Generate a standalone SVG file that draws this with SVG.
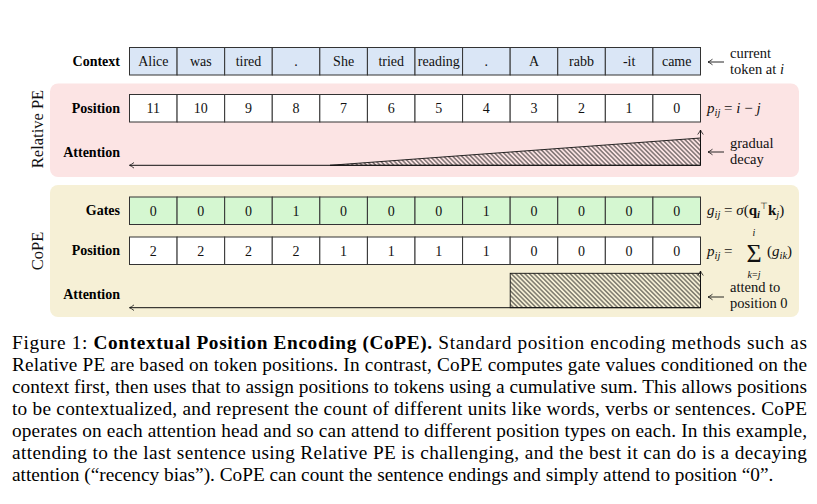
<svg xmlns="http://www.w3.org/2000/svg" width="817" height="504" viewBox="0 0 817 504">
<style>
.lbl{font-family:"Liberation Serif","Times New Roman",serif;font-size:14px;font-weight:bold;text-anchor:end;fill:#000}
.cell{stroke:#333;stroke-width:1}
.ctx{fill:#dae6f6}
.gate{fill:#d5f7d1}
.pos{fill:#fff}
.ct{font-family:"Liberation Serif","Times New Roman",serif;font-size:14px;text-anchor:middle;fill:#111}
.note{font-family:"Liberation Serif","Times New Roman",serif;font-size:14.5px;fill:#111}
.m{font-family:"Liberation Serif","Times New Roman",serif;font-size:15px;fill:#111}
.it{font-style:italic}
.sub{font-size:10.5px;font-style:italic}
.side{font-family:"Liberation Serif","Times New Roman",serif;font-size:16.5px;fill:#111;text-anchor:middle}
.cap{font-family:"Liberation Serif","Times New Roman",serif;font-size:19.3px;fill:#000}
.att{stroke:#111;stroke-width:1;fill:none}
.sarr{stroke:#111;stroke-width:0.9;fill:none}
</style>
<defs>
<pattern id="hatch" width="3.2" height="3.2" patternUnits="userSpaceOnUse" patternTransform="rotate(-45)">
<line x1="1.6" y1="0" x2="1.6" y2="3.2" stroke="#111" stroke-width="0.8"/>
</pattern>
<marker id="ah" viewBox="-6 0 8 8" markerWidth="8" markerHeight="8" refX="0" refY="4" orient="auto" markerUnits="userSpaceOnUse" overflow="visible">
<path d="M-4.5,1.2 Q-1.5,3.5 0,4 Q-1.5,4.5 -4.5,6.8" fill="none" stroke="#111" stroke-width="0.8"/>
</marker>
</defs>

<!-- background panels -->
<g id="panel-relative">
<rect x="50" y="83.5" width="749" height="93.5" rx="8" fill="#fce4e4"/>
<text class="side" transform="translate(43,129) rotate(-90)">Relative PE</text>
</g>
<g id="panel-cope">
<rect x="50" y="185" width="749" height="132" rx="8" fill="#f6f0d6"/>
<text class="side" transform="translate(43,251) rotate(-90)">CoPE</text>
</g>

<!-- row labels -->
<g id="row-labels">
<text class="lbl" x="120" y="66">Context</text>
<text class="lbl" x="120" y="113">Position</text>
<text class="lbl" x="120" y="157">Attention</text>
<text class="lbl" x="120" y="215">Gates</text>
<text class="lbl" x="120" y="255">Position</text>
<text class="lbl" x="120" y="299">Attention</text>
</g>

<!-- Context row -->
<g id="context-row">
<g id="ctx-0"><rect class="cell ctx" x="129.5" y="47.5" width="47.58" height="27.5"/><text class="ct" x="153.29" y="66">Alice</text></g>
<g id="ctx-1"><rect class="cell ctx" x="177.08" y="47.5" width="47.58" height="27.5"/><text class="ct" x="200.87" y="66">was</text></g>
<g id="ctx-2"><rect class="cell ctx" x="224.67" y="47.5" width="47.58" height="27.5"/><text class="ct" x="248.46" y="66">tired</text></g>
<g id="ctx-3"><rect class="cell ctx" x="272.25" y="47.5" width="47.58" height="27.5"/><text class="ct" x="296.04" y="66">.</text></g>
<g id="ctx-4"><rect class="cell ctx" x="319.83" y="47.5" width="47.58" height="27.5"/><text class="ct" x="343.62" y="66">She</text></g>
<g id="ctx-5"><rect class="cell ctx" x="367.42" y="47.5" width="47.58" height="27.5"/><text class="ct" x="391.21" y="66">tried</text></g>
<g id="ctx-6"><rect class="cell ctx" x="415" y="47.5" width="47.58" height="27.5"/><text class="ct" x="438.79" y="66">reading</text></g>
<g id="ctx-7"><rect class="cell ctx" x="462.58" y="47.5" width="47.58" height="27.5"/><text class="ct" x="486.37" y="66">.</text></g>
<g id="ctx-8"><rect class="cell ctx" x="510.17" y="47.5" width="47.58" height="27.5"/><text class="ct" x="533.96" y="66">A</text></g>
<g id="ctx-9"><rect class="cell ctx" x="557.75" y="47.5" width="47.58" height="27.5"/><text class="ct" x="581.54" y="66">rabb</text></g>
<g id="ctx-10"><rect class="cell ctx" x="605.33" y="47.5" width="47.58" height="27.5"/><text class="ct" x="629.12" y="66">-it</text></g>
<g id="ctx-11"><rect class="cell ctx" x="652.92" y="47.5" width="47.58" height="27.5"/><text class="ct" x="676.71" y="66">came</text></g>
</g>

<!-- Relative PE position row -->
<g id="rel-position-row">
<g id="rp-0"><rect class="cell pos" x="129.5" y="94.5" width="47.58" height="27.5"/><text class="ct" x="153.29" y="113">11</text></g>
<g id="rp-1"><rect class="cell pos" x="177.08" y="94.5" width="47.58" height="27.5"/><text class="ct" x="200.87" y="113">10</text></g>
<g id="rp-2"><rect class="cell pos" x="224.67" y="94.5" width="47.58" height="27.5"/><text class="ct" x="248.46" y="113">9</text></g>
<g id="rp-3"><rect class="cell pos" x="272.25" y="94.5" width="47.58" height="27.5"/><text class="ct" x="296.04" y="113">8</text></g>
<g id="rp-4"><rect class="cell pos" x="319.83" y="94.5" width="47.58" height="27.5"/><text class="ct" x="343.62" y="113">7</text></g>
<g id="rp-5"><rect class="cell pos" x="367.42" y="94.5" width="47.58" height="27.5"/><text class="ct" x="391.21" y="113">6</text></g>
<g id="rp-6"><rect class="cell pos" x="415" y="94.5" width="47.58" height="27.5"/><text class="ct" x="438.79" y="113">5</text></g>
<g id="rp-7"><rect class="cell pos" x="462.58" y="94.5" width="47.58" height="27.5"/><text class="ct" x="486.37" y="113">4</text></g>
<g id="rp-8"><rect class="cell pos" x="510.17" y="94.5" width="47.58" height="27.5"/><text class="ct" x="533.96" y="113">3</text></g>
<g id="rp-9"><rect class="cell pos" x="557.75" y="94.5" width="47.58" height="27.5"/><text class="ct" x="581.54" y="113">2</text></g>
<g id="rp-10"><rect class="cell pos" x="605.33" y="94.5" width="47.58" height="27.5"/><text class="ct" x="629.12" y="113">1</text></g>
<g id="rp-11"><rect class="cell pos" x="652.92" y="94.5" width="47.58" height="27.5"/><text class="ct" x="676.71" y="113">0</text></g>
</g>

<!-- CoPE gates row -->
<g id="gates-row">
<g id="g-0"><rect class="cell gate" x="129.5" y="197" width="47.58" height="27.5"/><text class="ct" x="153.29" y="215.5">0</text></g>
<g id="g-1"><rect class="cell gate" x="177.08" y="197" width="47.58" height="27.5"/><text class="ct" x="200.87" y="215.5">0</text></g>
<g id="g-2"><rect class="cell gate" x="224.67" y="197" width="47.58" height="27.5"/><text class="ct" x="248.46" y="215.5">0</text></g>
<g id="g-3"><rect class="cell gate" x="272.25" y="197" width="47.58" height="27.5"/><text class="ct" x="296.04" y="215.5">1</text></g>
<g id="g-4"><rect class="cell gate" x="319.83" y="197" width="47.58" height="27.5"/><text class="ct" x="343.62" y="215.5">0</text></g>
<g id="g-5"><rect class="cell gate" x="367.42" y="197" width="47.58" height="27.5"/><text class="ct" x="391.21" y="215.5">0</text></g>
<g id="g-6"><rect class="cell gate" x="415" y="197" width="47.58" height="27.5"/><text class="ct" x="438.79" y="215.5">0</text></g>
<g id="g-7"><rect class="cell gate" x="462.58" y="197" width="47.58" height="27.5"/><text class="ct" x="486.37" y="215.5">1</text></g>
<g id="g-8"><rect class="cell gate" x="510.17" y="197" width="47.58" height="27.5"/><text class="ct" x="533.96" y="215.5">0</text></g>
<g id="g-9"><rect class="cell gate" x="557.75" y="197" width="47.58" height="27.5"/><text class="ct" x="581.54" y="215.5">0</text></g>
<g id="g-10"><rect class="cell gate" x="605.33" y="197" width="47.58" height="27.5"/><text class="ct" x="629.12" y="215.5">0</text></g>
<g id="g-11"><rect class="cell gate" x="652.92" y="197" width="47.58" height="27.5"/><text class="ct" x="676.71" y="215.5">0</text></g>
</g>

<!-- CoPE position row -->
<g id="cope-position-row">
<g id="cp-0"><rect class="cell pos" x="129.5" y="237" width="47.58" height="27.5"/><text class="ct" x="153.29" y="255.5">2</text></g>
<g id="cp-1"><rect class="cell pos" x="177.08" y="237" width="47.58" height="27.5"/><text class="ct" x="200.87" y="255.5">2</text></g>
<g id="cp-2"><rect class="cell pos" x="224.67" y="237" width="47.58" height="27.5"/><text class="ct" x="248.46" y="255.5">2</text></g>
<g id="cp-3"><rect class="cell pos" x="272.25" y="237" width="47.58" height="27.5"/><text class="ct" x="296.04" y="255.5">2</text></g>
<g id="cp-4"><rect class="cell pos" x="319.83" y="237" width="47.58" height="27.5"/><text class="ct" x="343.62" y="255.5">1</text></g>
<g id="cp-5"><rect class="cell pos" x="367.42" y="237" width="47.58" height="27.5"/><text class="ct" x="391.21" y="255.5">1</text></g>
<g id="cp-6"><rect class="cell pos" x="415" y="237" width="47.58" height="27.5"/><text class="ct" x="438.79" y="255.5">1</text></g>
<g id="cp-7"><rect class="cell pos" x="462.58" y="237" width="47.58" height="27.5"/><text class="ct" x="486.37" y="255.5">1</text></g>
<g id="cp-8"><rect class="cell pos" x="510.17" y="237" width="47.58" height="27.5"/><text class="ct" x="533.96" y="255.5">0</text></g>
<g id="cp-9"><rect class="cell pos" x="557.75" y="237" width="47.58" height="27.5"/><text class="ct" x="581.54" y="255.5">0</text></g>
<g id="cp-10"><rect class="cell pos" x="605.33" y="237" width="47.58" height="27.5"/><text class="ct" x="629.12" y="255.5">0</text></g>
<g id="cp-11"><rect class="cell pos" x="652.92" y="237" width="47.58" height="27.5"/><text class="ct" x="676.71" y="255.5">0</text></g>
</g>

<!-- attention plots -->
<g id="rel-attention">
<polygon points="330,165.3 700.5,165.3 700.5,138" fill="url(#hatch)" stroke="#111" stroke-width="0.9"/>
</g>
<g id="cope-attention">
<rect x="510.2" y="273.3" width="190.3" height="34.4" fill="url(#hatch)" stroke="#111" stroke-width="0.9"/>
</g>

<!-- connectors / axes -->
<g id="connectors">
<line class="att" x1="700.5" y1="165.3" x2="129.5" y2="165.3" marker-end="url(#ah)"/>
<line class="att" x1="700.5" y1="165.3" x2="700.5" y2="130" marker-end="url(#ah)"/>
<line class="att" x1="700.5" y1="307.7" x2="129.5" y2="307.7" marker-end="url(#ah)"/>
<line class="att" x1="700.5" y1="307.7" x2="700.5" y2="271" marker-end="url(#ah)"/>
<line class="sarr" x1="724" y1="62" x2="708" y2="62" marker-end="url(#ah)"/>
<line class="sarr" x1="724" y1="152" x2="708" y2="152" marker-end="url(#ah)"/>
<line class="sarr" x1="724" y1="297" x2="708" y2="297" marker-end="url(#ah)"/>
</g>

<!-- side notes -->
<g id="note-current">
<text class="note" x="730" y="58">current</text>
<text class="note" x="730" y="74">token at <tspan class="it">i</tspan></text>
</g>
<g id="note-relpos">
<text class="m" x="707" y="113"><tspan class="it">p</tspan><tspan class="sub" dy="3">ij</tspan><tspan dy="-3"> = </tspan><tspan class="it">i</tspan> − <tspan class="it">j</tspan></text>
</g>
<g id="note-decay">
<text class="note" x="730" y="148">gradual</text>
<text class="note" x="730" y="164">decay</text>
</g>
<g id="note-gates">
<text class="m" x="707" y="215"><tspan class="it">g</tspan><tspan class="sub" dy="3">ij</tspan><tspan dy="-3"> = </tspan><tspan class="it">σ</tspan>(<tspan font-weight="bold">q</tspan><tspan class="sub" dy="3" font-weight="bold">i</tspan><tspan style="font-size:9px" dy="-9">⊤</tspan><tspan dy="6" font-weight="bold">k</tspan><tspan class="sub" dy="3">j</tspan><tspan dy="-3">)</tspan></text>
</g>
<g id="note-cumsum">
<text class="m" x="707" y="256"><tspan class="it">p</tspan><tspan class="sub" dy="3">ij</tspan><tspan dy="-3"> = </tspan></text>
<text class="m" x="754" y="262" style="font-size:26px" text-anchor="middle">Σ</text>
<text class="m" x="754" y="236" style="font-size:10px;font-style:italic" text-anchor="middle">i</text>
<text class="m" x="754" y="278" style="font-size:10px;font-style:italic" text-anchor="middle">k<tspan font-style="normal">=</tspan>j</text>
<text class="m" x="767" y="256">(<tspan class="it">g</tspan><tspan class="sub" dy="3">ik</tspan><tspan dy="-3">)</tspan></text>
</g>
<g id="note-attend">
<text class="note" x="730" y="292">attend to</text>
<text class="note" x="730" y="308">position 0</text>
</g>

<!-- caption -->
<g id="caption">
<text class="cap" x="12" y="349" textLength="795" lengthAdjust="spacing">Figure 1: <tspan font-weight="bold">Contextual Position Encoding (CoPE).</tspan> Standard position encoding methods such as</text>
<text class="cap" x="12" y="371" textLength="795" lengthAdjust="spacing">Relative PE are based on token positions. In contrast, CoPE computes gate values conditioned on the</text>
<text class="cap" x="12" y="393" textLength="795" lengthAdjust="spacing">context first, then uses that to assign positions to tokens using a cumulative sum. This allows positions</text>
<text class="cap" x="12" y="415" textLength="795" lengthAdjust="spacing">to be contextualized, and represent the count of different units like words, verbs or sentences. CoPE</text>
<text class="cap" x="12" y="437" textLength="795" lengthAdjust="spacing">operates on each attention head and so can attend to different position types on each. In this example,</text>
<text class="cap" x="12" y="459" textLength="795" lengthAdjust="spacing">attending to the last sentence using Relative PE is challenging, and the best it can do is a decaying</text>
<text class="cap" x="12" y="481">attention (“recency bias”). CoPE can count the sentence endings and simply attend to position “0”.</text>
</g>
</svg>
